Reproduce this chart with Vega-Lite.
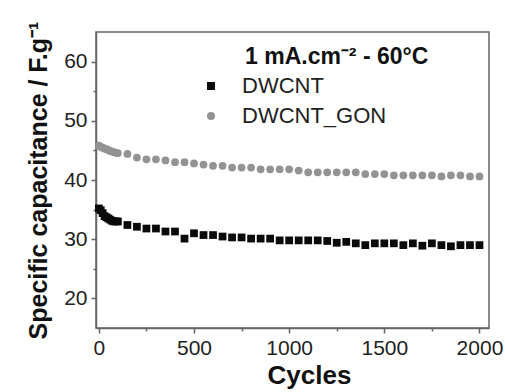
{
  "$schema": "https://vega.github.io/schema/vega-lite/v6.json",
  "width": 393,
  "height": 296,
  "autosize": "none",
  "padding": {"left": 96, "top": 32, "right": 16, "bottom": 64},
  "background": "white",
  "title": {
    "text": "1 mA.cm⁻²  -  60°C",
    "anchor": "start",
    "orient": "top",
    "frame": "group",
    "offset": 0,
    "dx": 149,
    "dy": 66,
    "baseline": "alphabetic",
    "font": "Liberation Sans",
    "fontSize": 23,
    "fontWeight": "bold",
    "color": "#111"
  },
  "config": {
    "view": {"stroke": "#666", "strokeWidth": 1.5},
    "font": "Liberation Sans",
    "axis": {
      "domainColor": "#666",
      "domainWidth": 1.5,
      "tickColor": "#666",
      "tickWidth": 1.5,
      "grid": false,
      "labelFont": "Liberation Sans",
      "labelColor": "#222",
      "titleFont": "Liberation Sans",
      "titleColor": "#111"
    },
    "legend": {
      "orient": "none",
      "legendX": 104,
      "legendY": 43,
      "padding": 0,
      "labelFontSize": 22,
      "labelFont": "Liberation Sans",
      "labelColor": "#222",
      "labelOffset": 20,
      "rowPadding": 8,
      "symbolSize": 64,
      "symbolStrokeWidth": 0
    }
  },
  "data": {
    "values": [
      {"cycle": 0, "series": "DWCNT", "cap": 35.2},
      {"cycle": 10, "series": "DWCNT", "cap": 34.9},
      {"cycle": 20, "series": "DWCNT", "cap": 34.4},
      {"cycle": 30, "series": "DWCNT", "cap": 33.9},
      {"cycle": 40, "series": "DWCNT", "cap": 33.7},
      {"cycle": 50, "series": "DWCNT", "cap": 33.5},
      {"cycle": 60, "series": "DWCNT", "cap": 33.3},
      {"cycle": 70, "series": "DWCNT", "cap": 33.1},
      {"cycle": 80, "series": "DWCNT", "cap": 33.0},
      {"cycle": 90, "series": "DWCNT", "cap": 33.0},
      {"cycle": 100, "series": "DWCNT", "cap": 33.0},
      {"cycle": 150, "series": "DWCNT", "cap": 32.4},
      {"cycle": 200, "series": "DWCNT", "cap": 32.1},
      {"cycle": 250, "series": "DWCNT", "cap": 31.8},
      {"cycle": 300, "series": "DWCNT", "cap": 31.8},
      {"cycle": 350, "series": "DWCNT", "cap": 31.3},
      {"cycle": 400, "series": "DWCNT", "cap": 31.3},
      {"cycle": 450, "series": "DWCNT", "cap": 30.1},
      {"cycle": 500, "series": "DWCNT", "cap": 31.0},
      {"cycle": 550, "series": "DWCNT", "cap": 30.7},
      {"cycle": 600, "series": "DWCNT", "cap": 30.7},
      {"cycle": 650, "series": "DWCNT", "cap": 30.45},
      {"cycle": 700, "series": "DWCNT", "cap": 30.3},
      {"cycle": 750, "series": "DWCNT", "cap": 30.3},
      {"cycle": 800, "series": "DWCNT", "cap": 30.1},
      {"cycle": 850, "series": "DWCNT", "cap": 30.1},
      {"cycle": 900, "series": "DWCNT", "cap": 30.1},
      {"cycle": 950, "series": "DWCNT", "cap": 29.8},
      {"cycle": 1000, "series": "DWCNT", "cap": 29.8},
      {"cycle": 1050, "series": "DWCNT", "cap": 29.8},
      {"cycle": 1100, "series": "DWCNT", "cap": 29.8},
      {"cycle": 1150, "series": "DWCNT", "cap": 29.8},
      {"cycle": 1200, "series": "DWCNT", "cap": 29.7},
      {"cycle": 1250, "series": "DWCNT", "cap": 29.4},
      {"cycle": 1300, "series": "DWCNT", "cap": 29.55},
      {"cycle": 1350, "series": "DWCNT", "cap": 29.3},
      {"cycle": 1400, "series": "DWCNT", "cap": 29.0},
      {"cycle": 1450, "series": "DWCNT", "cap": 29.3},
      {"cycle": 1500, "series": "DWCNT", "cap": 29.3},
      {"cycle": 1550, "series": "DWCNT", "cap": 29.3},
      {"cycle": 1600, "series": "DWCNT", "cap": 29.0},
      {"cycle": 1650, "series": "DWCNT", "cap": 29.3},
      {"cycle": 1700, "series": "DWCNT", "cap": 28.9},
      {"cycle": 1750, "series": "DWCNT", "cap": 29.3},
      {"cycle": 1800, "series": "DWCNT", "cap": 29.0},
      {"cycle": 1850, "series": "DWCNT", "cap": 28.8},
      {"cycle": 1900, "series": "DWCNT", "cap": 29.0},
      {"cycle": 1950, "series": "DWCNT", "cap": 29.0},
      {"cycle": 2000, "series": "DWCNT", "cap": 29.0},
      {"cycle": 0, "series": "DWCNT_GON", "cap": 45.8},
      {"cycle": 10, "series": "DWCNT_GON", "cap": 45.6},
      {"cycle": 20, "series": "DWCNT_GON", "cap": 45.45},
      {"cycle": 30, "series": "DWCNT_GON", "cap": 45.3},
      {"cycle": 40, "series": "DWCNT_GON", "cap": 45.2},
      {"cycle": 50, "series": "DWCNT_GON", "cap": 45.05},
      {"cycle": 60, "series": "DWCNT_GON", "cap": 44.9},
      {"cycle": 70, "series": "DWCNT_GON", "cap": 44.8},
      {"cycle": 80, "series": "DWCNT_GON", "cap": 44.7},
      {"cycle": 90, "series": "DWCNT_GON", "cap": 44.6},
      {"cycle": 100, "series": "DWCNT_GON", "cap": 44.55},
      {"cycle": 150, "series": "DWCNT_GON", "cap": 44.4},
      {"cycle": 200, "series": "DWCNT_GON", "cap": 43.8},
      {"cycle": 250, "series": "DWCNT_GON", "cap": 43.5},
      {"cycle": 300, "series": "DWCNT_GON", "cap": 43.5},
      {"cycle": 350, "series": "DWCNT_GON", "cap": 43.3},
      {"cycle": 400, "series": "DWCNT_GON", "cap": 43.0},
      {"cycle": 450, "series": "DWCNT_GON", "cap": 43.0},
      {"cycle": 500, "series": "DWCNT_GON", "cap": 42.8},
      {"cycle": 550, "series": "DWCNT_GON", "cap": 42.6},
      {"cycle": 600, "series": "DWCNT_GON", "cap": 42.4},
      {"cycle": 650, "series": "DWCNT_GON", "cap": 42.4},
      {"cycle": 700, "series": "DWCNT_GON", "cap": 42.1},
      {"cycle": 750, "series": "DWCNT_GON", "cap": 42.1},
      {"cycle": 800, "series": "DWCNT_GON", "cap": 42.1},
      {"cycle": 850, "series": "DWCNT_GON", "cap": 41.8},
      {"cycle": 900, "series": "DWCNT_GON", "cap": 41.8},
      {"cycle": 950, "series": "DWCNT_GON", "cap": 41.8},
      {"cycle": 1000, "series": "DWCNT_GON", "cap": 41.8},
      {"cycle": 1050, "series": "DWCNT_GON", "cap": 41.6},
      {"cycle": 1100, "series": "DWCNT_GON", "cap": 41.3},
      {"cycle": 1150, "series": "DWCNT_GON", "cap": 41.3},
      {"cycle": 1200, "series": "DWCNT_GON", "cap": 41.3},
      {"cycle": 1250, "series": "DWCNT_GON", "cap": 41.3},
      {"cycle": 1300, "series": "DWCNT_GON", "cap": 41.3},
      {"cycle": 1350, "series": "DWCNT_GON", "cap": 41.3},
      {"cycle": 1400, "series": "DWCNT_GON", "cap": 41.0},
      {"cycle": 1450, "series": "DWCNT_GON", "cap": 41.0},
      {"cycle": 1500, "series": "DWCNT_GON", "cap": 41.0},
      {"cycle": 1550, "series": "DWCNT_GON", "cap": 40.8},
      {"cycle": 1600, "series": "DWCNT_GON", "cap": 40.8},
      {"cycle": 1650, "series": "DWCNT_GON", "cap": 40.8},
      {"cycle": 1700, "series": "DWCNT_GON", "cap": 40.8},
      {"cycle": 1750, "series": "DWCNT_GON", "cap": 40.8},
      {"cycle": 1800, "series": "DWCNT_GON", "cap": 40.6},
      {"cycle": 1850, "series": "DWCNT_GON", "cap": 40.8},
      {"cycle": 1900, "series": "DWCNT_GON", "cap": 40.8},
      {"cycle": 1950, "series": "DWCNT_GON", "cap": 40.6},
      {"cycle": 2000, "series": "DWCNT_GON", "cap": 40.6}
    ]
  },
  "layer": [
    {
      "mark": {"type": "point", "filled": true, "opacity": 1},
      "encoding": {
        "x": {
          "field": "cycle",
          "type": "quantitative",
          "scale": {"domain": [-15, 2050], "nice": false, "zero": false},
          "axis": {
            "orient": "bottom",
            "values": [0, 500, 1000, 1500, 2000],
            "format": "d",
            "tickSize": 5,
            "labelFontSize": 21,
            "labelPadding": 4,
            "title": "Cycles",
            "titleFontSize": 26,
            "titleFontWeight": "bold",
            "titlePadding": 4,
            "titleX": 213
          }
        },
        "y": {
          "field": "cap",
          "type": "quantitative",
          "scale": {"domain": [15, 65], "nice": false, "zero": false},
          "axis": {
            "orient": "left",
            "values": [20, 30, 40, 50, 60],
            "tickSize": 5,
            "labelFontSize": 21,
            "labelPadding": 4,
            "title": "Specific capacitance / F.g⁻¹",
            "titleFontSize": 25,
            "titleFontWeight": "bold",
            "titlePadding": 12
          }
        },
        "shape": {
          "field": "series",
          "type": "nominal",
          "scale": {"domain": ["DWCNT", "DWCNT_GON"], "range": ["square", "circle"]},
          "legend": {"title": null}
        },
        "color": {
          "field": "series",
          "type": "nominal",
          "scale": {"domain": ["DWCNT", "DWCNT_GON"], "range": ["#0a0a0a", "#939393"]},
          "legend": {"title": null}
        },
        "size": {"value": 60}
      }
    },
    {
      "mark": {"type": "point", "opacity": 0},
      "encoding": {
        "x": {
          "field": "cycle",
          "type": "quantitative",
          "axis": {
            "orient": "bottom",
            "values": [250, 750, 1250, 1750],
            "tickSize": 3,
            "labels": false,
            "domain": false,
            "title": null
          }
        },
        "y": {
          "field": "cap",
          "type": "quantitative",
          "axis": {
            "orient": "left",
            "values": [25, 35, 45, 55],
            "tickSize": 3,
            "labels": false,
            "domain": false,
            "title": null
          }
        }
      }
    }
  ],
  "resolve": {"axis": {"x": "independent", "y": "independent"}}
}
